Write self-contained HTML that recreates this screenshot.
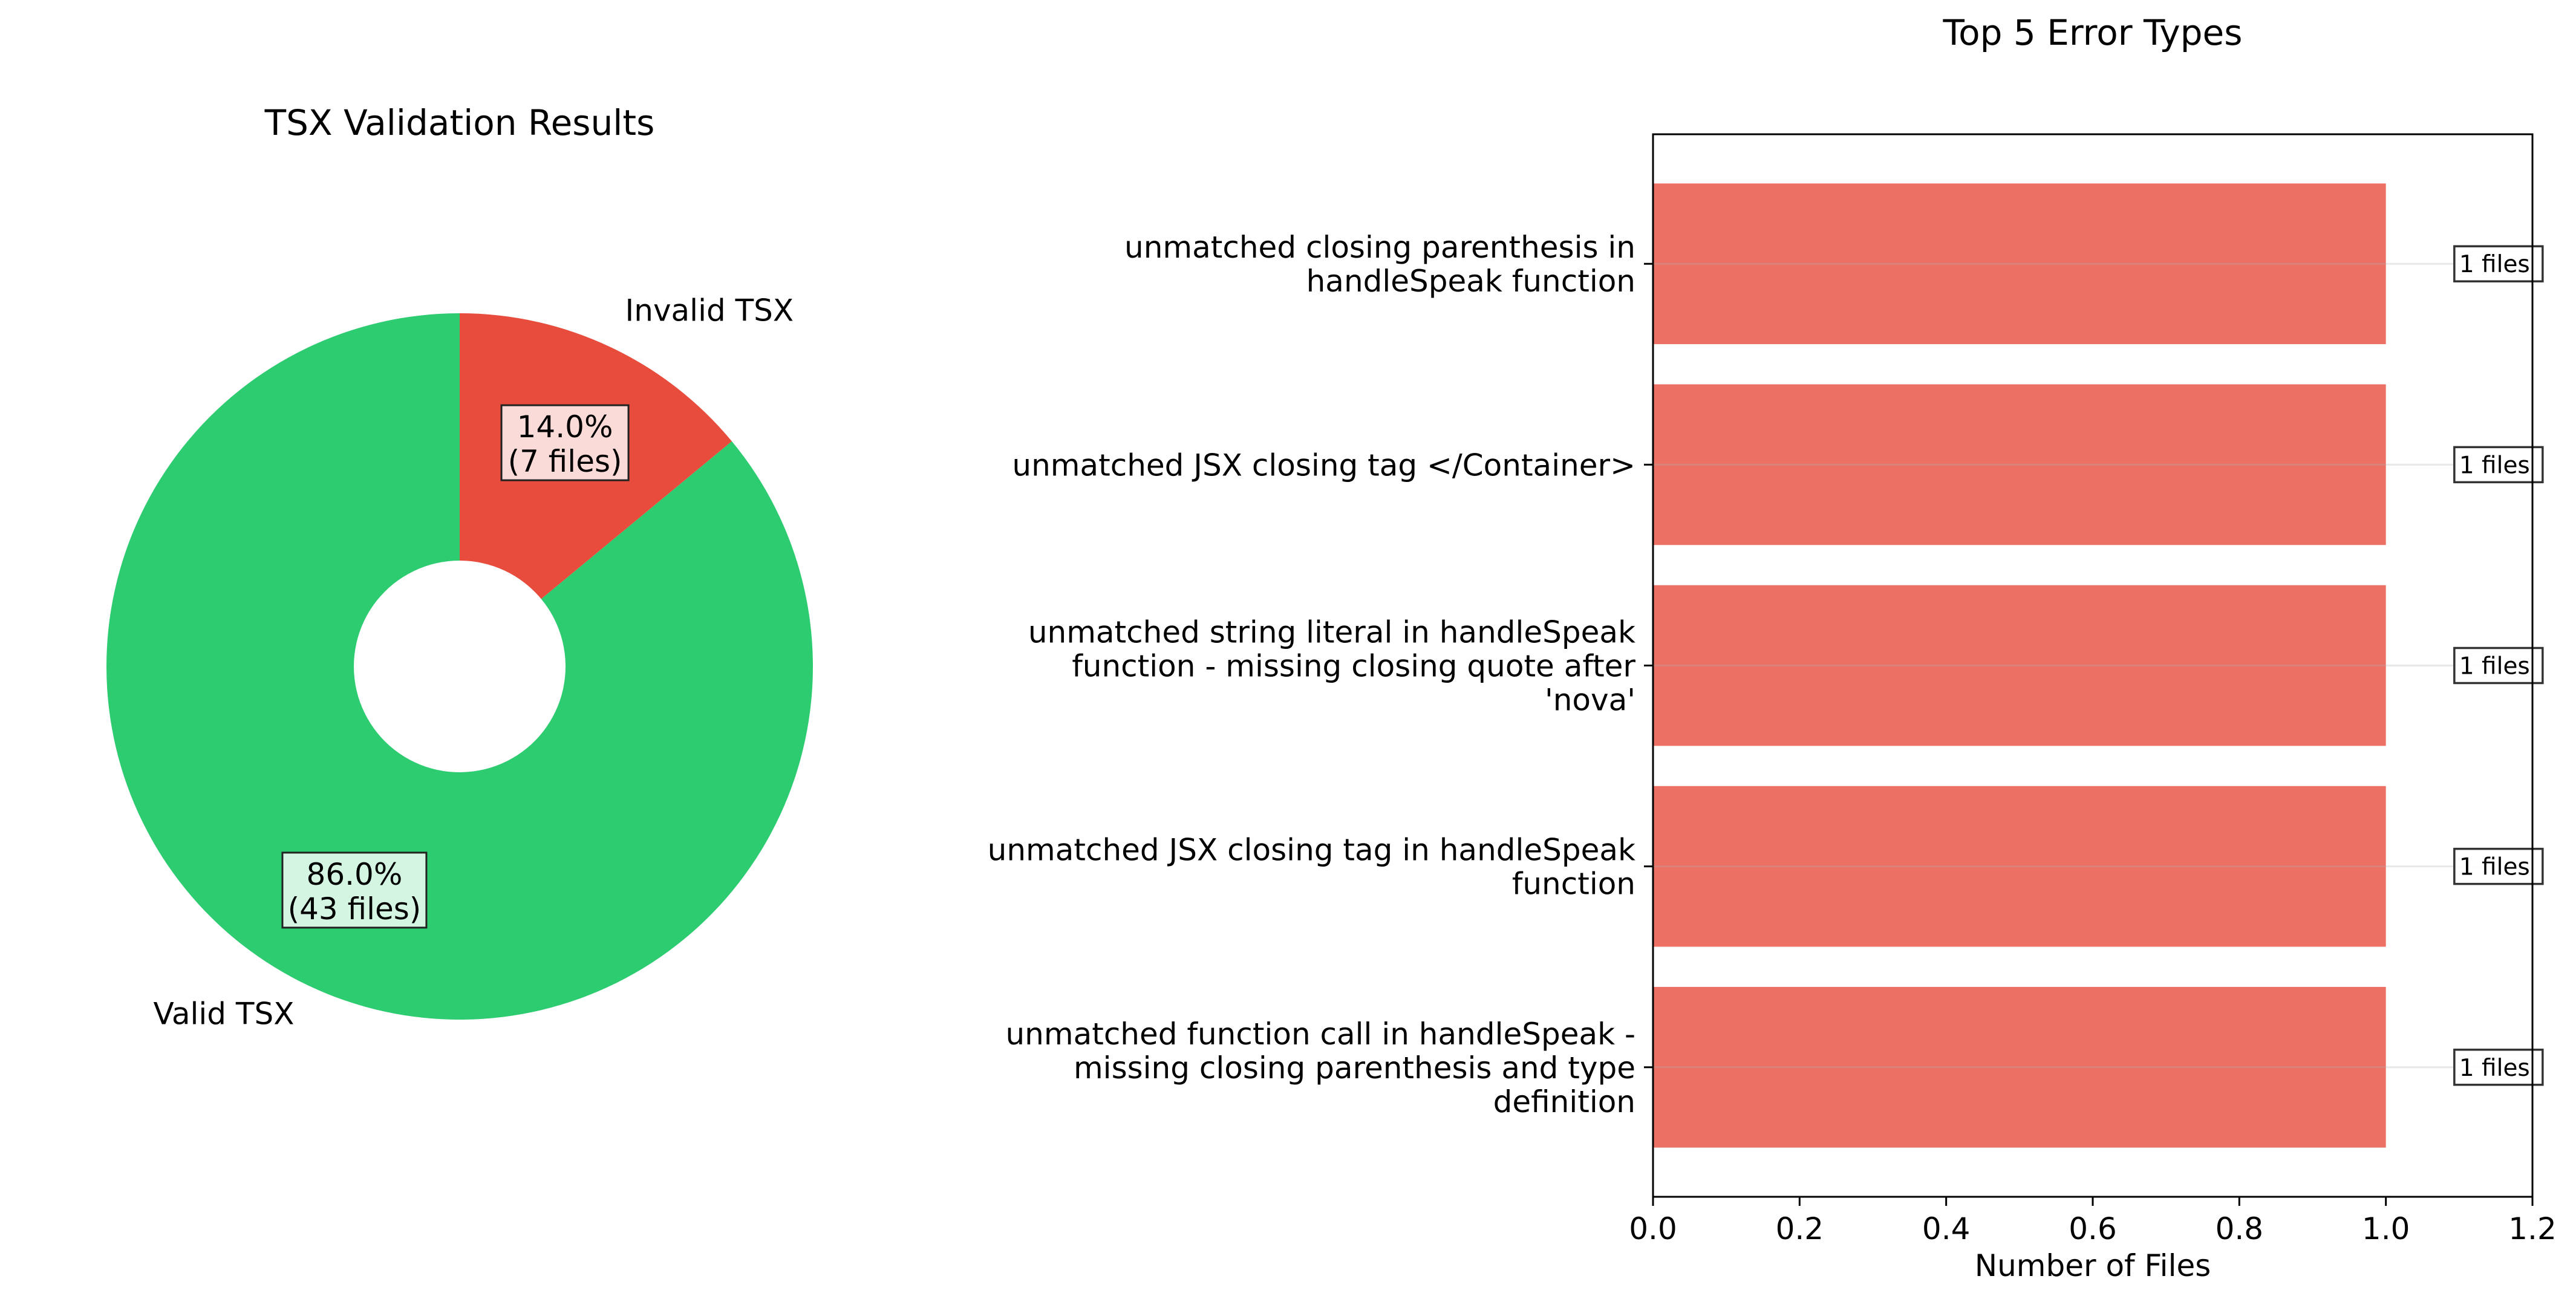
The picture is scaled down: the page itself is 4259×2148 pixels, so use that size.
<!DOCTYPE html>
<html><head><meta charset="utf-8"><style>
html,body{margin:0;padding:0;background:#fff;}
svg{display:block;font-family:"DejaVu Sans","Liberation Sans",sans-serif;}
</style></head><body>
<svg id="fig" width="4259" height="2148" viewBox="0 0 4259 2148" xmlns="http://www.w3.org/2000/svg">
<rect width="4259" height="2148" fill="#fff"/>
<g id="pie"></g>
<g id="bars"></g>
</svg>
<script>
const pieLabels = ["Invalid TSX", "Valid TSX"];
const pieCounts = [7, 43];
const pieColors = ["#e74c3c", "#2ecc71"];
const barCategories = [
  "unmatched closing parenthesis in\nhandleSpeak function",
  "unmatched JSX closing tag </Container>",
  "unmatched string literal in handleSpeak\nfunction - missing closing quote after\n'nova'",
  "unmatched JSX closing tag in handleSpeak\nfunction",
  "unmatched function call in handleSpeak -\nmissing closing parenthesis and type\ndefinition"
];
const barValues = [1, 1, 1, 1, 1];
const xTicks = [0, 0.2, 0.4, 0.6, 0.8, 1.0, 1.2];
const xTickLabels = ["0.0", "0.2", "0.4", "0.6", "0.8", "1.0", "1.2"];

const NS = "http://www.w3.org/2000/svg";
function mk(tag, attrs, parent, text) {
  const e = document.createElementNS(NS, tag);
  for (const k in attrs) e.setAttribute(k, attrs[k]);
  if (text !== undefined) e.textContent = text;
  parent.appendChild(e);
  return e;
}

// ---------- PIE ----------
const pie = document.getElementById("pie");
const cx = 760, cy = 1102, R = 584, r0 = 175;
let t = mk("text", {x: cx, y: 223, "font-size": 58, "text-anchor": "middle"}, pie, "TSX Validation Results");


const total = pieCounts.reduce((a, b) => a + b, 0);
let ang = 90;
const pt = (a, rad) => [cx + rad * Math.cos(a * Math.PI / 180), cy - rad * Math.sin(a * Math.PI / 180)];
const boxFill = ["#fadbd8", "#d5f5e3"];
const boxW = [210, 238];
pieCounts.forEach((c, i) => {
  const sweep = 360 * c / total;
  const a0 = ang, a1 = ang - sweep;
  const large = sweep > 180 ? 1 : 0;
  const [x0, y0] = pt(a0, R), [x1, y1] = pt(a1, R), [x2, y2] = pt(a1, r0), [x3, y3] = pt(a0, r0);
  const d = `M${x0},${y0} A${R},${R} 0 ${large} 1 ${x1},${y1} L${x2},${y2} A${r0},${r0} 0 ${large} 0 ${x3},${y3} Z`;
  const p = mk("path", {d, fill: pieColors[i]}, pie);
  
  
  const mid = (a0 + a1) / 2;
  const [lx, ly] = pt(mid, R * 1.1);
  const lab = mk("text", {x: lx, y: ly + 10, "font-size": 50, "text-anchor": Math.cos(mid * Math.PI / 180) >= 0 ? "start" : "end"}, pie, pieLabels[i]);
  
  
  const [px, py] = pt(mid, R * 0.7);
  const pct = (100 * c / total).toFixed(1) + "%";
  const g = mk("g", {}, pie);
  
  
  mk("rect", {x: px - boxW[i] / 2, y: py - 62, width: boxW[i], height: 124, fill: boxFill[i], stroke: "#222", "stroke-width": 3}, g);
  mk("text", {x: px, y: py - 9, "font-size": 50, "text-anchor": "middle"}, g, pct);
  mk("text", {x: px, y: py + 48, "font-size": 50, "text-anchor": "middle"}, g, "(" + c + " files)");
  ang = a1;
});

// ---------- BARS ----------
const bars = document.getElementById("bars");
const L = 2733, Rt = 4187, T = 222, B = 1979;
const xMin = 0, xMax = 1.2;
const n = barCategories.length;
const yMin = -0.645, yMax = n - 1 + 0.645;
const X = v => L + (v - xMin) / (xMax - xMin) * (Rt - L);
const Y = i => T + (i - yMin) / (yMax - yMin) * (B - T);
t = mk("text", {x: (L + Rt) / 2, y: 74, "font-size": 58, "text-anchor": "middle"}, bars, "Top 5 Error Types");


const bh = 0.8 * (Y(1) - Y(0));
barValues.forEach((v, i) => {
  const b = mk("rect", {x: X(0), y: Y(i) - bh / 2, width: X(v) - X(0), height: bh, fill: "#e74c3c", "fill-opacity": 0.8}, bars);
  
  
});
barValues.forEach((v, i) => {
  const gl = mk("line", {x1: L, x2: Rt, y1: Y(i), y2: Y(i), stroke: "#b0b0b0", "stroke-opacity": 0.3, "stroke-width": 3}, bars);
  
  
});
barValues.forEach((v, i) => {
  const g = mk("g", {}, bars);
  
  
  const x = X(v + 0.1);
  mk("rect", {x: x - 8, y: Y(i) - 29, width: 146, height: 58, fill: "#fff", "fill-opacity": 0.9, stroke: "#333", "stroke-width": 3.5}, g);
  mk("text", {x: x, y: Y(i) + 14, "font-size": 39}, g, v + " files");
});
const fr = mk("rect", {x: L, y: T, width: Rt - L, height: B - T, fill: "none", stroke: "#000", "stroke-width": 3}, bars);


xTicks.forEach((v, i) => {
  mk("line", {x1: X(v), x2: X(v), y1: B, y2: B + 15, stroke: "#000", "stroke-width": 3}, bars);
  const tl = mk("text", {x: X(v), y: B + 70, "font-size": 50, "text-anchor": "middle"}, bars, xTickLabels[i]);
  
  
});
t = mk("text", {x: (L + Rt) / 2, y: 2110, "font-size": 50, "text-anchor": "middle"}, bars, "Number of Files");


barCategories.forEach((c, i) => {
  mk("line", {x1: L - 15, x2: L, y1: Y(i), y2: Y(i), stroke: "#000", "stroke-width": 3}, bars);
  const lines = c.split("\n");
  const lh = 56;
  const tx = mk("text", {"font-size": 50, "text-anchor": "end"}, bars);
  
  
  lines.forEach((ln, k) => {
    mk("tspan", {x: L - 29, y: Y(i) + 18 + (k - (lines.length - 1) / 2) * lh}, tx, ln);
  });
});
</script>
</body></html>
